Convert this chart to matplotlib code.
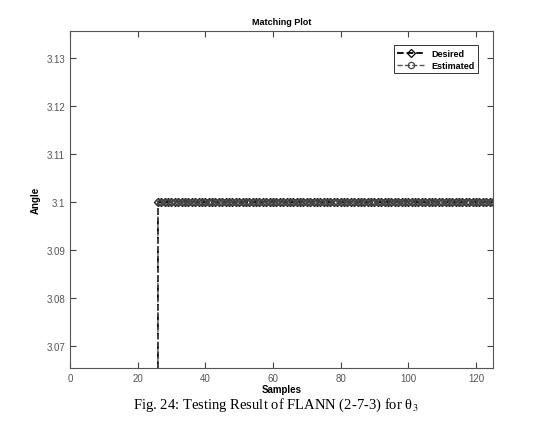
import numpy as np
import matplotlib
matplotlib.use("Agg")
import matplotlib.pyplot as plt

# samples 1..125, output switches on at sample 26
samples = np.arange(1, 126)
desired = np.array([0.0] * 25 + [3.1] * 100)
estimated = np.array([0.0] * 25 + [3.1] * 100)

xticks = [0, 20, 40, 60, 80, 100, 120]
yticks = [3.07, 3.08, 3.09, 3.1, 3.11, 3.12, 3.13]
ytick_labels = ["3.07", "3.08", "3.09", "3.1", "3.11", "3.12", "3.13"]

plt.rcParams['font.family'] = ['Liberation Sans', 'DejaVu Sans']

fig = plt.figure(figsize=(5.45, 4.35), dpi=100)
ax = fig.add_axes([0.1284, 0.1517, 0.776, 0.7747])

ax.plot(samples, desired, color='black', linestyle='--', linewidth=1.3,
        marker='D', markersize=4.2, markerfacecolor='none',
        markeredgecolor='black', markeredgewidth=0.9, label='Desired')
ax.plot(samples, estimated, color='#555555', linestyle='--', linewidth=1.0,
        marker='o', markersize=4.5, markerfacecolor='none',
        markeredgecolor='#444444', markeredgewidth=0.9, label='Estimated')

ax.set_xlim(0, 125)
ax.set_ylim(3.0655, 3.1356)
ax.set_xticks(xticks)
ax.set_yticks(yticks)
ax.set_yticklabels(ytick_labels)
ax.tick_params(direction='in', top=True, right=True, length=4, width=0.8,
               labelsize=7, colors='#444444', labelcolor='#555555')
for sp in ax.spines.values():
    sp.set_color('#555555')
    sp.set_linewidth(0.8)

ax.set_xlabel('Samples', fontsize=7, fontweight='bold', labelpad=1)
ax.set_ylabel('Angle', fontsize=7, fontweight='bold', labelpad=4)
ax.set_title('Matching Plot', fontsize=6.5, fontweight='bold', pad=5)

leg = ax.legend(loc='upper right', fontsize=6.5, frameon=True, fancybox=False,
                edgecolor='black', borderaxespad=1.6, handlelength=3,
                borderpad=0.4, labelspacing=0.3)
leg.get_frame().set_linewidth(0.7)
for t in leg.get_texts():
    t.set_fontweight('bold')

fig.text(0.505, 0.068, 'Fig. 24: Testing Result of FLANN (2-7-3) for θ$_3$',
         ha='center', va='center', fontsize=10.5, family='Liberation Serif',
         math_fontfamily='stix')

fig.savefig('out.png', dpi=100)
